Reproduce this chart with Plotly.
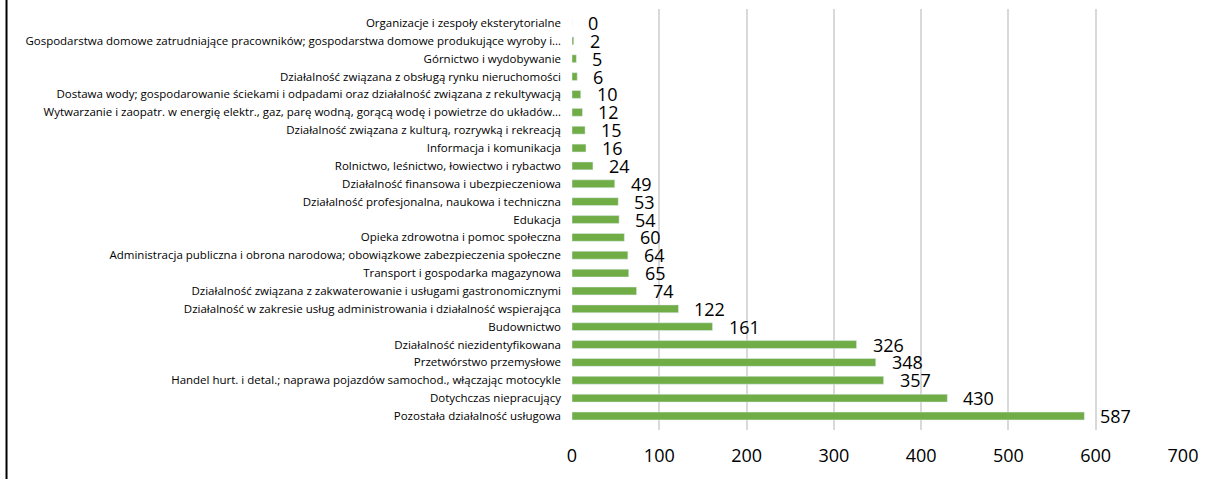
import plotly.graph_objects as go


# ============================================================
# Data (bottom to top)
# ============================================================

categories = [
    "Pozostała działalność usługowa",
    "Dotychczas niepracujący",
    "Handel hurt. i detal.; naprawa pojazdów samochod., włączając motocykle",
    "Przetwórstwo przemysłowe",
    "Działalność niezidentyfikowana",
    "Budownictwo",
    "Działalność w zakresie usług administrowania i działalność wspierająca",
    "Działalność związana z zakwaterowanie i usługami gastronomicznymi",
    "Transport i gospodarka magazynowa",
    "Administracja publiczna i obrona narodowa; obowiązkowe zabezpieczenia społeczne",
    "Opieka zdrowotna i pomoc społeczna",
    "Edukacja",
    "Działalność profesjonalna, naukowa i techniczna",
    "Działalność finansowa i ubezpieczeniowa",
    "Rolnictwo, leśnictwo, łowiectwo i rybactwo",
    "Informacja i komunikacja",
    "Działalność związana z kulturą, rozrywką i rekreacją",
    "Wytwarzanie i zaopatr. w energię elektr., gaz, parę wodną, gorącą wodę i powietrze do układów…",
    "Dostawa wody; gospodarowanie ściekami i odpadami oraz działalność związana z rekultywacją",
    "Działalność związana z obsługą rynku nieruchomości",
    "Górnictwo i wydobywanie",
    "Gospodarstwa domowe zatrudniające pracowników; gospodarstwa domowe produkujące wyroby i…",
    "Organizacje i zespoły eksterytorialne",
]

values = [587, 430, 357, 348, 326, 161, 122, 74, 65, 64, 60, 54, 53, 49, 24, 16, 15, 12, 10, 6, 5, 2, 0]

x_ticks = [0, 100, 200, 300, 400, 500, 600, 700]


# ============================================================
# Figure
# ============================================================

fig = go.Figure(
    go.Bar(
        x=values,
        y=categories,
        orientation="h",
        marker=dict(color="#70AD47"),
        hoverinfo="x+y",
    )
)

# value labels right of the bars
for cat, val in zip(categories, values):
    fig.add_annotation(
        x=val,
        y=cat,
        text=str(val),
        showarrow=False,
        xanchor="left",
        yanchor="middle",
        xshift=14,
        font=dict(size=18, color="#000000", family="Open Sans"),
    )

# left border line of the chart frame
fig.add_shape(
    type="line",
    xref="paper",
    yref="paper",
    x0=-0.9255,
    x1=-0.9255,
    y0=-0.14,
    y1=1.04,
    line=dict(color="#000000", width=2),
)

fig.update_layout(
    width=1218,
    height=479,
    paper_bgcolor="#FFFFFF",
    plot_bgcolor="#FFFFFF",
    margin=dict(l=572, r=35, t=9, b=49),
    bargap=0.56,
    showlegend=False,
    font=dict(family="Open Sans", color="#000000"),
    xaxis=dict(
        range=[0, 700],
        tickvals=x_ticks,
        showgrid=True,
        gridcolor="#D9D9D9",
        gridwidth=1.5,
        zeroline=False,
        showline=False,
        ticks="",
        tickfont=dict(size=18, color="#000000"),
        ticklabelstandoff=13,
        automargin=False,
    ),
    yaxis=dict(
        type="category",
        showgrid=False,
        zeroline=False,
        showline=False,
        ticks="",
        tickfont=dict(size=11.5, color="#000000"),
        ticklabelstandoff=10,
        automargin=False,
    ),
)

# page body has a default 8px margin; drop it so the chart fills the window
fig.write_html(
    "out.html",
    config={"displayModeBar": False},
    post_script="document.body.style.margin='0';",
)
